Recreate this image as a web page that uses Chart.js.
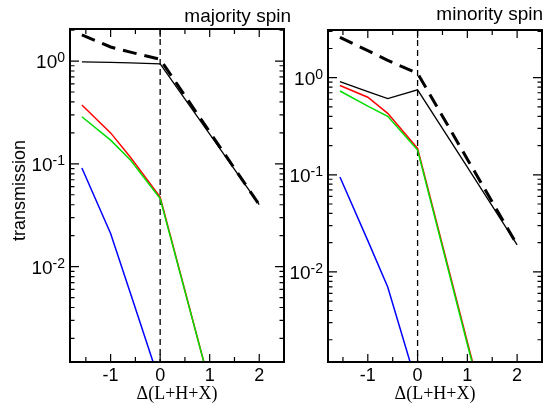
<!DOCTYPE html>
<html>
<head>
<meta charset="utf-8">
<script src="https://cdn.jsdelivr.net/npm/chart.js@4"></script>
<style>
  body { margin: 0; background: #fff; }
  #wrap { position: relative; width: 560px; height: 403px; }
  canvas { position: absolute; left: 0; top: 0; }
</style>
</head>
<body>
<div id="wrap">
  <canvas id="chartMaj" width="560" height="403"></canvas>
  <canvas id="chartMin" width="560" height="403"></canvas>
</div>
<script>
// majority spin panel
const majX = [-1.58, -1, -0.6, 0, 1, 2];
const majDashed = [1.8, 1.37, 1.22, 1.04, 0.204, 0.04];
const majBlack = [0.98, 0.97, 0.96, 0.94, 0.194, 0.04];
const majRed = [0.373, 0.2, 0.116, 0.0475, 0.00072, null];
const majGreen = [0.287, 0.17, 0.109, 0.046, 0.00072, null];
const majBlue = [0.091, 0.021, 0.0055, 0.00073, null, null];

// minority spin panel
const minX = [-1.56, -1, -0.6, 0, 1, 2];
const minDashed = [2.6, 1.9, 1.51, 1.11, 0.145, 0.019];
const minBlack = [0.91, 0.72, 0.61, 0.75, 0.12, 0.019];
const minRed = [0.83, 0.63, 0.43, 0.187, 0.0019, 0.00002];
const minGreen = [0.73, 0.51, 0.40, 0.18, 0.0018, 0.00002];
const minBlue = [0.095, 0.021, 0.007, 0.00065, null, null];

// ticks
const xMajorTicks = [-1, 0, 1, 2];
const xMinorTicks = [-1.5, -0.5, 0.5, 1.5];
const yMajorTicks = [0.01, 0.1, 1];

const SANS = "'Liberation Sans', Arial, sans-serif";
const SERIF = "'Liberation Serif', 'Times New Roman', serif";

function pts(xs, ys) {
    return xs.map((x, i) => ({ x: x, y: ys[i] }));
}

// minor log ticks 2..9 per decade inside the range
function minorLogTicks(min, max) {
    const out = [];
    for (let e = -4; e <= 1; e++) {
        for (let m = 2; m <= 9; m++) {
            const v = m * Math.pow(10, e);
            if (v > min && v < max) out.push(v);
        }
    }
    return out;
}

const axisDecor = {
    id: "axisDecor",
    beforeDatasetsDraw(chart, args, opts) {
        // vertical dashed line at x = 0
        const ctx = chart.ctx;
        const a = chart.chartArea;
        const x0 = chart.scales.x.getPixelForValue(0);
        ctx.save();
        ctx.strokeStyle = "#000";
        ctx.lineWidth = 1.3;
        ctx.setLineDash([6, 4]);
        ctx.beginPath();
        ctx.moveTo(x0, a.top);
        ctx.lineTo(x0, a.bottom);
        ctx.stroke();
        ctx.restore();
    },
    afterDatasetsDraw(chart, args, opts) {
        const ctx = chart.ctx;
        const a = chart.chartArea;
        const xs = chart.scales.x;
        const ys = chart.scales.y;
        ctx.save();
        ctx.strokeStyle = "#000";
        ctx.fillStyle = "#000";
        ctx.lineWidth = 1.2;
        ctx.beginPath();
        // x ticks, bottom and top, pointing inward
        xMajorTicks.forEach(v => {
            const p = xs.getPixelForValue(v);
            ctx.moveTo(p, a.bottom); ctx.lineTo(p, a.bottom - 8);
            ctx.moveTo(p, a.top); ctx.lineTo(p, a.top + 8);
        });
        xMinorTicks.forEach(v => {
            const p = xs.getPixelForValue(v);
            ctx.moveTo(p, a.bottom); ctx.lineTo(p, a.bottom - 5);
            ctx.moveTo(p, a.top); ctx.lineTo(p, a.top + 5);
        });
        // y ticks, left and right
        yMajorTicks.forEach(v => {
            const p = ys.getPixelForValue(v);
            ctx.moveTo(a.left, p); ctx.lineTo(a.left + 9, p);
            ctx.moveTo(a.right, p); ctx.lineTo(a.right - 9, p);
        });
        minorLogTicks(ys.min, ys.max).forEach(v => {
            const p = ys.getPixelForValue(v);
            ctx.moveTo(a.left, p); ctx.lineTo(a.left + 4.5, p);
            ctx.moveTo(a.right, p); ctx.lineTo(a.right - 4.5, p);
        });
        ctx.stroke();

        // frame
        ctx.lineWidth = 2;
        ctx.strokeRect(a.left, a.top, a.right - a.left, a.bottom - a.top);

        // x tick labels
        ctx.font = "18px " + SANS;
        ctx.textAlign = "center";
        ctx.textBaseline = "middle";
        xMajorTicks.forEach(v => {
            ctx.fillText(String(v), xs.getPixelForValue(v), a.bottom + 14);
        });

        // y tick labels 10^n
        ctx.textBaseline = "alphabetic";
        yMajorTicks.forEach(v => {
            const p = ys.getPixelForValue(v);
            const ex = String(Math.round(Math.log10(v)));
            ctx.font = "14px " + SANS;
            const wSup = ctx.measureText(ex).width;
            ctx.font = "19px " + SANS;
            const wBase = ctx.measureText("10").width;
            const right = a.left - 5;
            ctx.textAlign = "left";
            ctx.fillText("10", right - wSup - wBase, p + 7);
            ctx.font = "14px " + SANS;
            ctx.fillText(ex, right - wSup, p + 1);
        });

        // x axis title
        ctx.font = "18px " + SERIF;
        ctx.textAlign = "center";
        ctx.textBaseline = "middle";
        ctx.fillText("\u0394(L+H+X)", (a.left + a.right) / 2, a.bottom + 32);

        // panel title
        ctx.font = "19px " + SANS;
        ctx.textAlign = "right";
        ctx.textBaseline = "alphabetic";
        ctx.fillText(opts.title, opts.titleX, opts.titleY);

        // y axis title
        if (opts.yTitle) {
            ctx.translate(20, (a.top + a.bottom) / 2 - 5);
            ctx.rotate(-Math.PI / 2);
            ctx.font = "18px " + SANS;
            ctx.textAlign = "center";
            ctx.textBaseline = "middle";
            ctx.fillText(opts.yTitle, 0, 0);
        }
        ctx.restore();
    }
};

function makePanel(id, xs, series, yMax, xMin, pad, decor) {
    const ctx = document.getElementById(id).getContext("2d");
    const datasets = [
        { data: pts(xs, series.blue), borderColor: "#0000ff", borderWidth: 1.5 },
        { data: pts(xs, series.green), borderColor: "#00dd00", borderWidth: 1.5 },
        { data: pts(xs, series.red), borderColor: "#ff0000", borderWidth: 1.5 },
        { data: pts(xs, series.black), borderColor: "#000000", borderWidth: 1.3 },
        { data: pts(xs, series.dashed), borderColor: "#000000", borderWidth: 3, borderDash: [14, 8] }
    ];
    datasets.forEach(d => {
        d.pointRadius = 0;
        d.tension = 0;
        d.fill = false;
        d.spanGaps = false;
        d.clip = 0;
    });
    return new Chart(ctx, {
        type: "line",
        data: { datasets: datasets },
        options: {
            responsive: false,
            animation: false,
            devicePixelRatio: 1,
            layout: { padding: pad },
            scales: {
                x: { type: "linear", min: xMin, max: 2.5, display: false },
                y: { type: "logarithmic", min: 0.00118, max: yMax, display: false }
            },
            plugins: {
                legend: { display: false },
                tooltip: { enabled: false },
                axisDecor: decor
            }
        },
        plugins: [axisDecor]
    });
}

makePanel("chartMaj", majX,
    { dashed: majDashed, black: majBlack, red: majRed, green: majGreen, blue: majBlue },
    2.05, -1.82,
    { left: 70, right: 276, top: 29, bottom: 41 },
    { title: "majority spin", titleX: 291, titleY: 22, yTitle: "transmission" });

makePanel("chartMin", minX,
    { dashed: minDashed, black: minBlack, red: minRed, green: minGreen, blue: minBlue },
    3.1, -1.8,
    { left: 328, right: 18, top: 30, bottom: 41 },
    { title: "minority spin", titleX: 543, titleY: 20, yTitle: null });
</script>
</body>
</html>
